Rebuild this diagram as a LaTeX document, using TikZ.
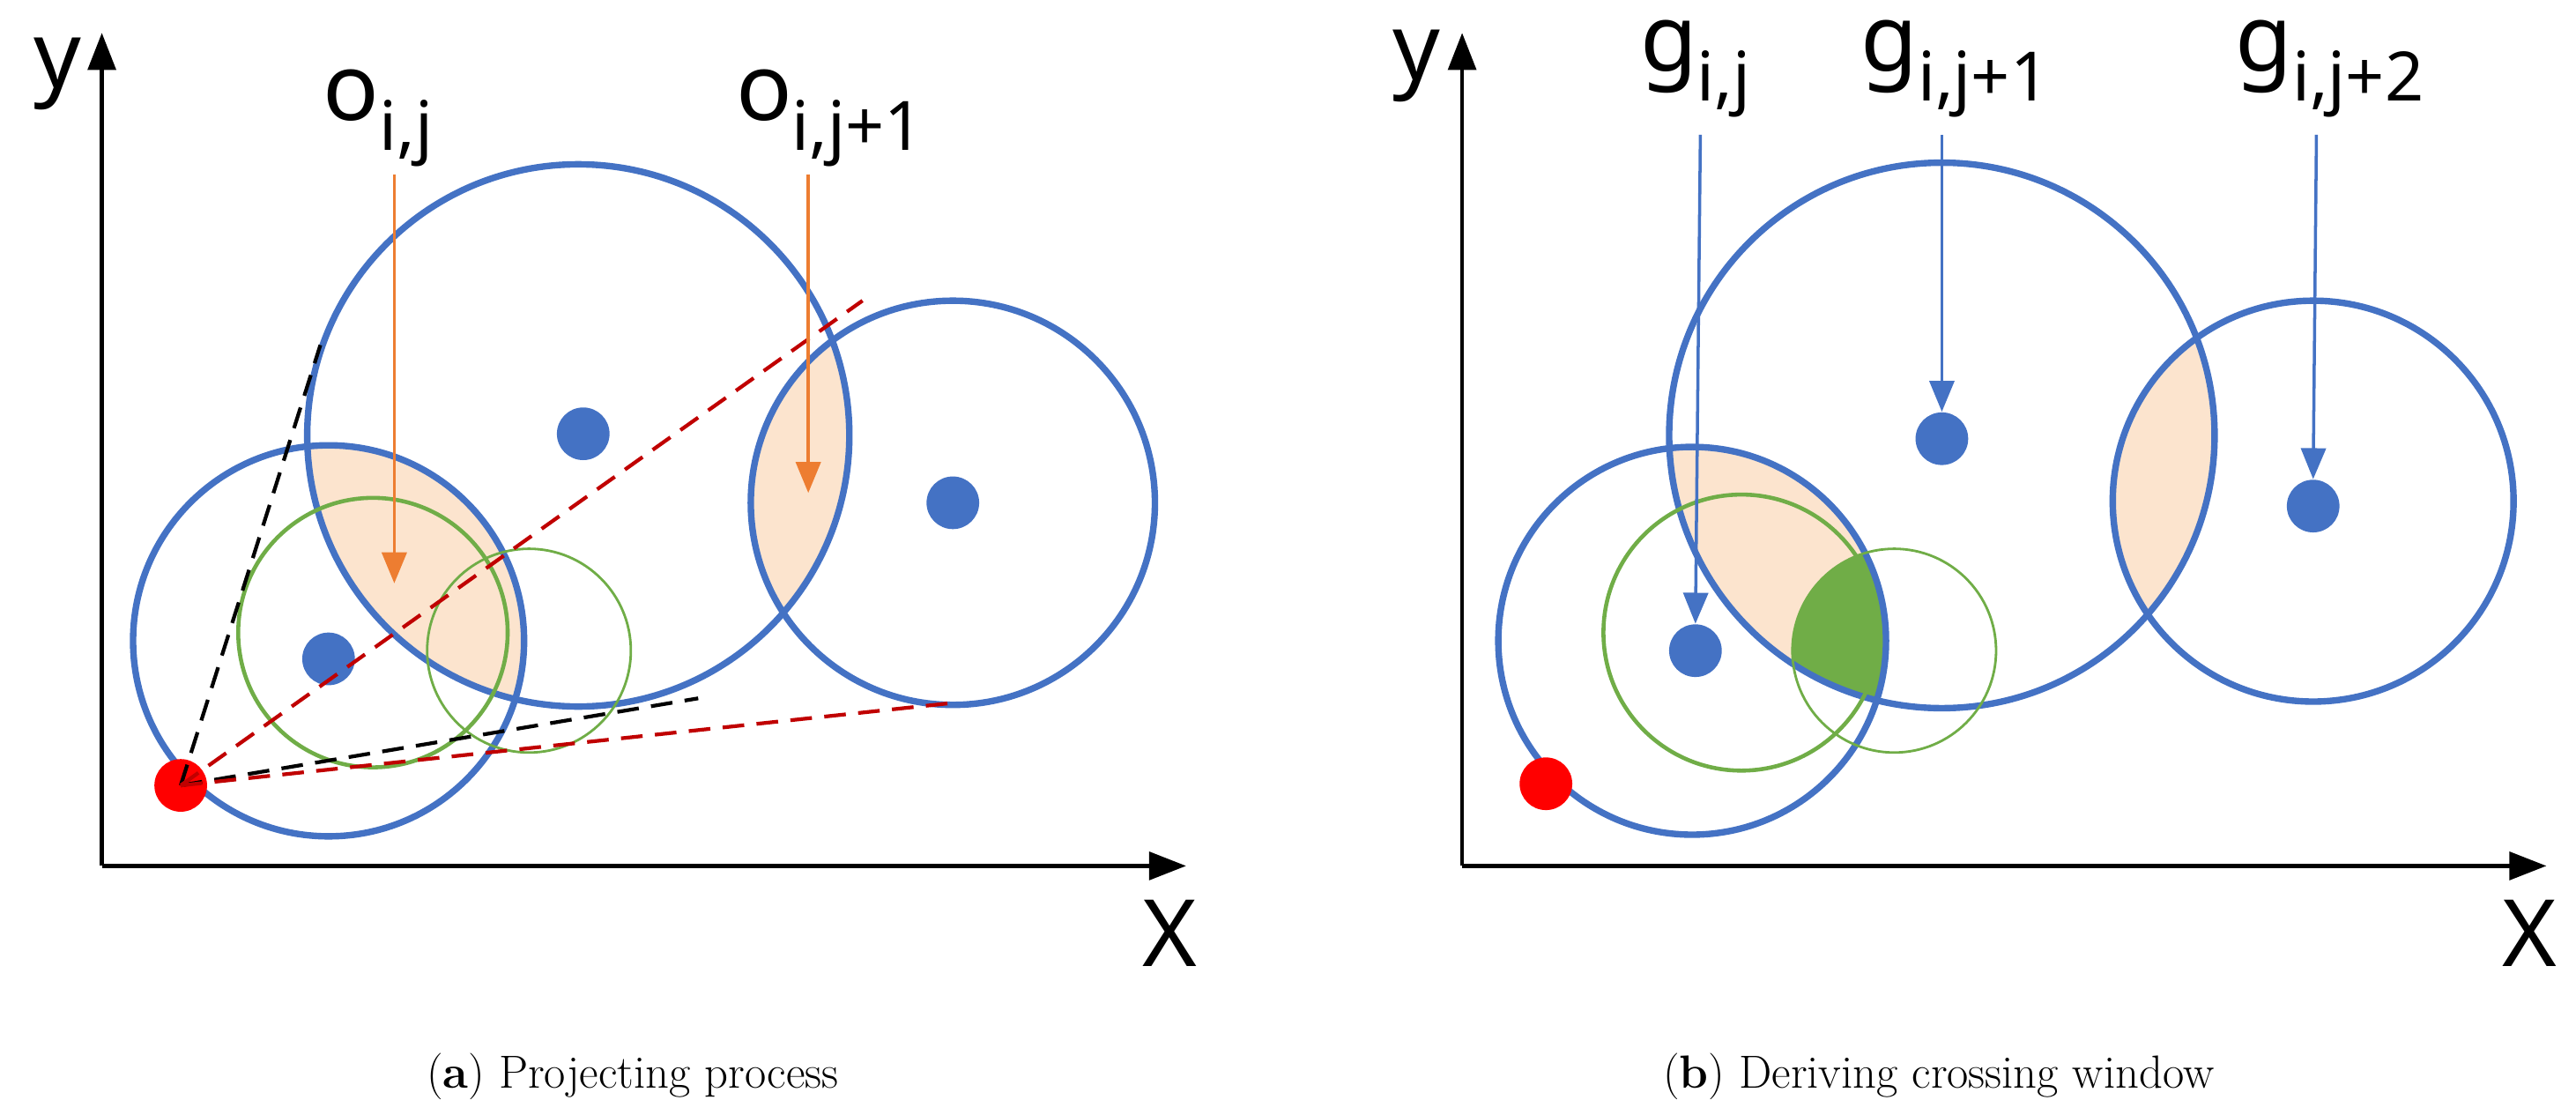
\documentclass[tikz,border=0pt]{standalone}
\usepackage{fontspec}
\newfontfamily\labfont{Noto Sans}
\usetikzlibrary{arrows.meta}
\definecolor{cblue}{RGB}{68,114,196}
\definecolor{cgreen}{RGB}{112,173,71}
\definecolor{corange}{RGB}{237,125,49}
\definecolor{cpeach}{RGB}{252,228,206}
\definecolor{cred}{RGB}{192,0,0}
\newcommand{\sublab}[2]{{\labfont\fontsize{30}{32}\selectfont #1\raisebox{-0.32em}{\fontsize{22}{24}\selectfont #2}}}

\begin{document}
\begin{tikzpicture}[x=0.018642cm,y=-0.018642cm,
    ring/.style={draw=cblue,line width=2.1pt},
    gbig/.style={draw=cgreen,line width=1.3pt},
    gsmall/.style={draw=cgreen,line width=0.8pt},
    axis/.style={line width=1.3pt,-{Triangle[length=12pt,width=9pt]}},
    dot/.style={fill=cblue,circle,inner sep=0pt,minimum size=17pt},
    obs/.style={draw=corange,line width=1pt,-{Triangle[length=10pt,width=8pt]}},
    gar/.style={draw=cblue,line width=1pt,-{Triangle[length=10pt,width=8pt]}},
    blk/.style={dashed,line width=1.2pt,dash pattern=on 7pt off 4pt},
    rdd/.style={draw=cred,dashed,line width=1.2pt,dash pattern=on 7pt off 4pt},
    axlab/.style={font=\labfont\fontsize{30}{32}\selectfont},
    captext/.style={font=\fontsize{15}{18}\selectfont}]
\useasboundingbox (0,0) rectangle (1568,669);

% (a) projecting process
\begin{scope}
\clip (352,265) circle (165);
\fill[cpeach] (200,390) circle (119);
\fill[cpeach] (580,306) circle (123);
\end{scope}
\draw[ring] (352,265) circle (165);
\draw[ring] (200,390) circle (119);
\draw[ring] (580,306) circle (123);
\draw[gbig] (227,385) circle (82);
\draw[gsmall] (322,396) circle (62);
\node[dot] (a1) at (200,401) {};
\node[dot] (a2) at (355,264) {};
\node[dot] (a3) at (580,306) {};
\node[fill=red,circle,inner sep=0pt,minimum size=17pt] (ap) at (110,478) {};
\coordinate (at1) at (195,210);
\coordinate (at2) at (425,425);
\coordinate (ar1) at (525,183);
\coordinate (ar2) at (578,428);
\draw[blk] (ap.center) -- (at1);
\draw[blk] (ap.center) -- (at2);
\draw[rdd] (ap.center) -- (ar1);
\draw[rdd] (ap.center) -- (ar2);
\node (o1) at (230,72) {\sublab{o}{i,j}};
\node (o2) at (505,72) {\sublab{o}{i,j+1}};
\coordinate (oe1) at (240,355);
\coordinate (oe2) at (492,300);
\draw[obs] (240,106) -- (oe1);
\draw[obs] (492,106) -- (oe2);
\draw[axis] (62,527) -- (62,20);
\draw[axis] (62,527) -- (722,527);
\node[axlab] (ya) at (35,45) {y};
\node[axlab] (xa) at (712,568) {X};
\node[captext] (capa) at (385,655) {(\textbf{a}) Projecting process};

% (b) deriving crossing window
\begin{scope}
\clip (1182,265) circle (166);
\fill[cpeach] (1030,390) circle (118);
\fill[cpeach] (1408,305) circle (122);
\clip (1030,390) circle (118);
\fill[cgreen] (1153,396) circle (62);
\end{scope}
\draw[ring] (1182,265) circle (166);
\draw[ring] (1030,390) circle (118);
\draw[ring] (1408,305) circle (122);
\draw[gbig] (1060,385) circle (84);
\draw[gsmall] (1153,396) circle (62);
\node[dot] (b1) at (1032,396) {};
\node[dot] (b2) at (1182,267) {};
\node[dot] (b3) at (1408,308) {};
\node[fill=red,circle,inner sep=0pt,minimum size=17pt] (bp) at (941,477) {};
\node (g1) at (1032,42) {\sublab{g}{i,j}};
\node (g2) at (1190,42) {\sublab{g}{i,j+1}};
\node (g3) at (1418,42) {\sublab{g}{i,j+2}};
\draw[gar] (1035,82) -- (b1.north);
\draw[gar] (1182,82) -- (b2.north);
\draw[gar] (1410,82) -- (b3.north);
\draw[axis] (890,527) -- (890,20);
\draw[axis] (890,527) -- (1550,527);
\node[axlab] (yb) at (862,40) {y};
\node[axlab] (xb) at (1540,568) {X};
\node[captext] (capb) at (1180,655) {(\textbf{b}) Deriving crossing window};
\end{tikzpicture}
\end{document}
